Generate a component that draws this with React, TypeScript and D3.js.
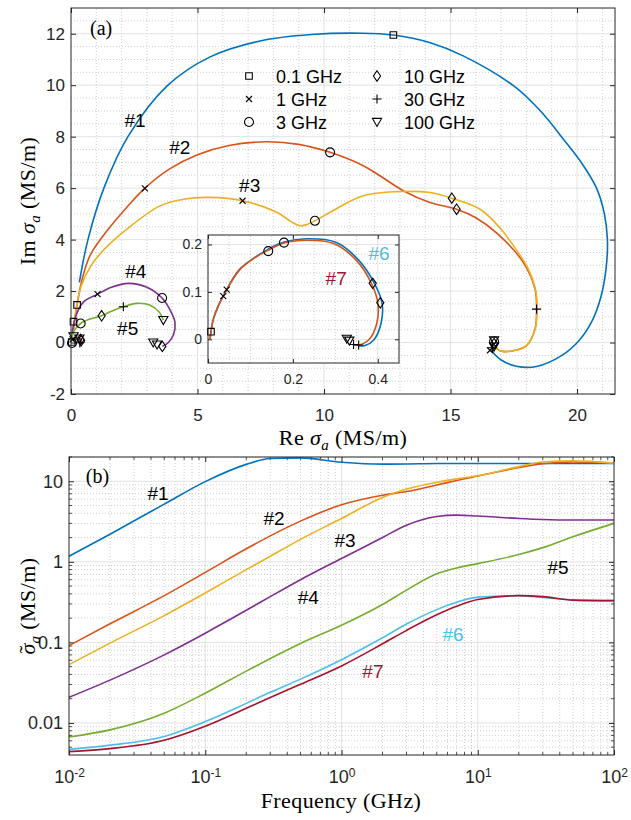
import { useEffect, useRef } from 'react';
import * as d3 from 'd3';

type Pt = [number, number];

const seriesColors = ['#0072BD', '#D95319', '#EDB120', '#7E2F8E', '#77AC30', '#4DBEEE', '#A2142F'];
const seriesNames = ['#1', '#2', '#3', '#4', '#5', '#6', '#7'];

// (a) trajectories of sigma_a in the complex plane, [Re, Im] in MS/m
const trajA1: Pt[] = [
  [0.33, 2.34], [0.67, 4.0], [1.3, 6.0], [2.25, 8.0], [3.83, 10.0], [5.5, 11.1], [7.47, 11.72],
  [9.5, 11.97], [11.5, 12.02], [12.74, 11.95], [14.2, 11.65], [15.5, 11.14], [17.5, 9.97],
  [18.6, 8.95], [19.46, 7.9], [20.2, 6.95], [20.77, 6.0], [21.08, 5.0], [21.2, 4.0],
  [21.15, 2.9], [20.95, 1.8], [20.6, 0.85], [20.1, 0.1], [19.4, -0.5], [18.4, -0.93],
  [17.6, -0.92], [17.0, -0.68], [16.6, -0.3],
];
const trajA2: Pt[] = [
  [0.1, 0.5], [0.24, 1.46], [0.45, 2.5], [0.76, 3.4], [1.47, 4.4], [2.2, 5.25], [2.92, 6.0],
  [3.9, 6.75], [5.0, 7.3], [6.2, 7.65], [7.7, 7.8], [9.0, 7.7], [10.24, 7.39], [11.55, 6.87],
  [12.21, 6.48], [13.13, 5.9], [14.19, 5.44], [15.24, 5.18], [16.0, 4.85], [16.83, 4.25],
  [17.88, 3.11], [18.34, 2.08], [18.4, 1.3], [18.34, 0.52], [18.0, -0.12], [17.48, -0.32],
  [16.96, -0.32], [16.72, -0.1],
];
const trajA3: Pt[] = [
  [0.05, 0.3], [0.15, 1.0], [0.4, 2.2], [0.8, 3.0], [1.32, 3.63], [2.2, 4.4], [3.52, 5.31],
  [4.5, 5.58], [5.49, 5.64], [6.78, 5.51], [8.13, 5.06], [8.7, 4.7], [9.05, 4.54], [9.3, 4.58],
  [9.64, 4.73], [10.24, 5.06], [11.55, 5.7], [13.13, 5.87], [14.19, 5.83], [15.05, 5.61],
  [16.17, 5.18], [17.0, 4.4], [17.6, 3.6], [18.05, 2.9], [18.38, 1.95], [18.42, 1.3],
  [18.34, 0.52], [18.0, -0.12], [17.48, -0.32], [16.96, -0.32], [16.72, -0.1],
];
const trajA4: Pt[] = [
  [0.02, 0.05], [0.15, 0.9], [0.48, 1.56], [1.05, 1.88], [1.6, 2.15], [2.27, 2.3], [3.0, 2.15],
  [3.6, 1.73], [3.95, 1.2], [4.11, 0.78], [4.05, 0.3], [3.85, 0.0], [3.61, -0.15],
];
const trajA5: Pt[] = [
  [0.02, 0.05], [0.12, 0.45], [0.38, 0.74], [0.74, 0.91], [1.21, 1.04], [1.6, 1.22],
  [2.07, 1.39], [2.58, 1.52], [3.11, 1.46], [3.5, 1.17], [3.65, 0.87],
];
// inset: samples #6 and #7
const trajA6: Pt[] = [
  [0.005, 0.0], [0.007, 0.016], [0.0125, 0.042], [0.024, 0.07], [0.036, 0.091], [0.075, 0.148],
  [0.142, 0.19], [0.179, 0.205], [0.233, 0.212], [0.3, 0.205], [0.355, 0.167], [0.392, 0.118],
  [0.41, 0.077], [0.408, 0.035], [0.39, -0.002], [0.37, -0.013], [0.355, -0.014],
];
const trajA7: Pt[] = [
  [0.005, 0.0], [0.007, 0.016], [0.0125, 0.042], [0.024, 0.07], [0.036, 0.091], [0.044, 0.105],
  [0.075, 0.147], [0.11, 0.172], [0.142, 0.188], [0.179, 0.203], [0.233, 0.209], [0.296, 0.202],
  [0.35, 0.166], [0.385, 0.118], [0.4, 0.077], [0.398, 0.035], [0.38, 0.0], [0.355, -0.012],
  [0.343, -0.011],
];

// frequency markers on the (a) trajectories
const freqLabels = ['0.1 GHz', '1 GHz', '3 GHz', '10 GHz', '30 GHz', '100 GHz'];
const freqShapes = ['square', 'cross', 'circle', 'diamond', 'plus', 'triangle'];
const markA01: Pt[] = [[12.74, 11.95], [0.24, 1.46], [0.1, 0.81], [0.03, 0.02]];
const markA1: Pt[] = [[2.92, 5.99], [6.78, 5.51], [1.05, 1.88], [16.56, -0.3], [0.06, 0.12]];
const markA3: Pt[] = [[10.24, 7.39], [9.64, 4.73], [3.6, 1.73], [0.38, 0.74], [0.04, -0.02], [16.72, 0.04]];
const markA10: Pt[] = [[15.05, 5.61], [15.24, 5.18], [1.21, 1.04], [3.61, -0.15], [0.38, 0.12], [0.4, 0.07], [16.72, -0.04]];
const markA30: Pt[] = [[18.4, 1.3], [2.07, 1.39], [0.35, -0.01], [16.66, -0.2]];
const markA100: Pt[] = [[3.65, 0.87], [3.25, 0.0], [3.4, -0.08], [0.1, 0.24], [0.33, 0.15], [16.72, 0.08], [16.72, -0.16]];
const markIn01: Pt[] = [[0.007, 0.016]];
const markIn1: Pt[] = [[0.036, 0.091], [0.044, 0.105]];
const markIn3: Pt[] = [[0.142, 0.186], [0.179, 0.204]];
const markIn10: Pt[] = [[0.388, 0.118], [0.406, 0.077]];
const markIn30: Pt[] = [[0.343, -0.011], [0.355, -0.012]];
const markIn100: Pt[] = [[0.327, 0.001], [0.333, -0.003]];

// (b) sigma_a tilde versus frequency
const freqGHz = [0.01, 0.02, 0.05, 0.1, 0.2, 0.3, 0.5, 1, 2, 3, 5, 7, 10, 20, 30, 50, 100];
const sigB1 = [1.17, 2.2, 5.2, 9.9, 16.2, 19.2, 19.5, 17.2, 16.3, 16.4, 16.6, 16.6, 16.6, 16.6, 16.6, 16.6, 16.6];
const sigB2 = [0.091, 0.17, 0.38, 0.74, 1.45, 2.1, 3.2, 5.1, 6.7, 7.45, 9.0, 10.2, 11.6, 14.8, 16.5, 17.4, 16.8];
const sigB3 = [0.053, 0.098, 0.215, 0.41, 0.8, 1.17, 1.9, 3.45, 6.3, 8.0, 9.7, 10.7, 11.7, 15.2, 17.3, 17.9, 16.8];
const sigB4 = [0.0208, 0.034, 0.07, 0.13, 0.25, 0.37, 0.6, 1.1, 2.0, 2.85, 3.65, 3.8, 3.7, 3.45, 3.35, 3.3, 3.3];
const sigB5 = [0.0067, 0.0082, 0.0132, 0.0234, 0.044, 0.063, 0.097, 0.163, 0.295, 0.445, 0.71, 0.84, 0.95, 1.23, 1.5, 2.05, 3.0];
const sigB6 = [0.0047, 0.0053, 0.0068, 0.0104, 0.0175, 0.024, 0.035, 0.061, 0.114, 0.169, 0.255, 0.315, 0.365, 0.38, 0.36, 0.335, 0.33];
const sigB7 = [0.0044, 0.0048, 0.0061, 0.0091, 0.0152, 0.0207, 0.0302, 0.051, 0.096, 0.141, 0.22, 0.281, 0.34, 0.38, 0.37, 0.335, 0.33];

// series label anchors in data units
const labelsA: Pt[] = [[2.53, 8.37], [4.3, 7.32], [7.06, 5.84], [2.56, 2.5], [2.24, 0.29]];
const labelsIn: Pt[] = [[0.403, 0.167], [0.302, 0.115]];
const labelsB: Pt[] = [[0.045, 5.85], [0.32, 2.86], [1.06, 1.53], [0.57, 0.3], [38.8, 0.71], [6.58, 0.104], [1.7, 0.036]];

const sansFont = "'Liberation Sans', Arial, Helvetica, sans-serif";
const texFont = "'Liberation Serif', 'Times New Roman', serif";
const axisColor = '#262626';
const majorGridColor = '#dcdcdc';
const minorGridColor = '#c4c4c4';

const markerPaths: Record<string, string> = {
  square: 'M-3.3,-3.3H3.3V3.3H-3.3Z',
  cross: 'M-3,-3L3,3M-3,3L3,-3',
  circle: 'M4.5,0A4.5,4.5 0 1,1 -4.5,0A4.5,4.5 0 1,1 4.5,0Z',
  diamond: 'M0,-5.2L3.6,0L0,5.2L-3.6,0Z',
  plus: 'M-4.6,0H4.6M0,-4.6V4.6',
  triangle: 'M-4.6,-3.6H4.6L0,4.4Z',
};

function drawGrid(g: any, x: any, y: any, xs: number[], ys: number[], color: string, dash: string | null) {
  const [x0, x1] = x.range();
  const [y0, y1] = y.range();
  const gg = g.append('g').attr('stroke', color).attr('stroke-width', 0.8).attr('stroke-dasharray', dash);
  gg.selectAll('line.v').data(xs).join('line').attr('class', 'v')
    .attr('x1', (d: number) => x(d)).attr('x2', (d: number) => x(d)).attr('y1', y0).attr('y2', y1);
  gg.selectAll('line.h').data(ys).join('line').attr('class', 'h')
    .attr('y1', (d: number) => y(d)).attr('y2', (d: number) => y(d)).attr('x1', x0).attr('x2', x1);
}

// inward ticks on all four sides, labels only on bottom/left; returns the bottom axis group
function drawAxes(g: any, x: any, y: any, xt: number[], yt: number[], len: number, fontSize: number, xPad: number, fmtX: any, fmtY: any) {
  const [x0, x1] = x.range();
  const [y0, y1] = y.range();
  const strip = (s: any) => s.call((a: any) => a.select('.domain').remove())
    .attr('color', axisColor).attr('font-family', sansFont).attr('font-size', fontSize);
  const bottom = g.append('g').attr('transform', `translate(0,${y0})`)
    .call(d3.axisBottom(x).tickValues(xt).tickSizeInner(-len).tickSizeOuter(0).tickPadding(xPad).tickFormat(fmtX))
    .call(strip);
  g.append('g').attr('transform', `translate(0,${y1})`)
    .call(d3.axisTop(x).tickValues(xt).tickSizeInner(-len).tickSizeOuter(0).tickFormat(() => ''))
    .call(strip);
  g.append('g').attr('transform', `translate(${x0},0)`)
    .call(d3.axisLeft(y).tickValues(yt).tickSizeInner(-len).tickSizeOuter(0).tickPadding(6).tickFormat(fmtY))
    .call(strip);
  g.append('g').attr('transform', `translate(${x1},0)`)
    .call(d3.axisRight(y).tickValues(yt).tickSizeInner(-len).tickSizeOuter(0).tickFormat(() => ''))
    .call(strip);
  return bottom;
}

function drawBox(g: any, x: any, y: any) {
  const [x0, x1] = x.range();
  const [y0, y1] = y.range();
  g.append('rect').attr('x', x0).attr('y', y1).attr('width', x1 - x0).attr('height', y0 - y1)
    .attr('fill', 'none').attr('stroke', axisColor).attr('stroke-width', 1);
}

function drawMarkers(g: any, x: any, y: any, groups: Pt[][]) {
  groups.forEach((pts, i) => {
    g.append('g').selectAll('path').data(pts).join('path')
      .attr('d', markerPaths[freqShapes[i]])
      .attr('transform', (d: Pt) => `translate(${x(d[0])},${y(d[1])})`)
      .attr('fill', 'none').attr('stroke', '#000').attr('stroke-width', 1.1);
  });
}

function sigmaText(t: any, prefix: string, tilde: boolean) {
  if (prefix) t.append('tspan').text(prefix);
  t.append('tspan').attr('font-style', 'italic').text('σ');
  if (tilde) t.append('tspan').attr('dx', -10).attr('dy', -1).text('\u02DC');
  t.append('tspan').attr('font-style', 'italic').attr('font-size', 15)
    .attr('dx', tilde ? 2 : 0).attr('dy', tilde ? 6 : 5).text('a');
  t.append('tspan').attr('dy', -5).text(' (MS/m)');
}

export default function App() {
  const svgRef = useRef<SVGSVGElement>(null);

  useEffect(() => {
    if (!svgRef.current) return;
    const svg = d3.select(svgRef.current);
    svg.selectAll('*').remove();

    // ---------- panel (a) ----------
    const xA = d3.scaleLinear().domain([0, 21.5]).range([71, 615]);
    const yA = d3.scaleLinear().domain([-2, 13]).range([394, 8]);
    const gA = svg.append('g');

    drawGrid(gA, xA, yA, d3.range(1, 22).filter((v) => v % 5 !== 0),
      d3.range(-1.5, 13, 0.5).filter((v) => v % 2 !== 0), minorGridColor, '1,2');
    drawGrid(gA, xA, yA, [5, 10, 15, 20], d3.range(0, 13, 2), majorGridColor, null);
    drawAxes(gA, xA, yA, [0, 5, 10, 15, 20], d3.range(-2, 13, 2), 5, 17, 15, (d: number) => String(d), (d: number) => String(d));

    const lineA = d3.line<Pt>().x((d) => xA(d[0])).y((d) => yA(d[1])).curve(d3.curveCatmullRom.alpha(0.5));
    [trajA1, trajA2, trajA3, trajA4, trajA5].forEach((pts, i) => {
      gA.append('path').datum(pts).attr('d', lineA).attr('fill', 'none')
        .attr('stroke', seriesColors[i]).attr('stroke-width', 1.6);
    });
    [trajA6, trajA7].forEach((pts, i) => {
      gA.append('path').datum(pts).attr('d', lineA).attr('fill', 'none')
        .attr('stroke', seriesColors[i]).attr('stroke-width', 1.2);
    });
    drawMarkers(gA, xA, yA, [markA01, markA1, markA3, markA10, markA30, markA100]);

    labelsA.forEach((p, i) => {
      gA.append('text').attr('x', xA(p[0])).attr('y', yA(p[1])).attr('text-anchor', 'middle')
        .attr('font-family', sansFont).attr('font-size', 19).attr('fill', '#000').text(seriesNames[i]);
    });
    gA.append('text').attr('x', xA(0.75)).attr('y', yA(11.94)).attr('font-family', texFont)
      .attr('font-size', 20).attr('fill', '#000').text('(a)');

    // legend, two columns of three
    const legend = gA.append('g');
    freqLabels.forEach((lab, i) => {
      const col = Math.floor(i / 3);
      const row = i % 3;
      const mx = col === 0 ? 249 : 377;
      const my = 76 + row * 23;
      legend.append('path').attr('d', markerPaths[freqShapes[i]]).attr('transform', `translate(${mx},${my})`)
        .attr('fill', 'none').attr('stroke', '#000').attr('stroke-width', 1.1);
      legend.append('text').attr('x', mx + 27).attr('y', my + 7).attr('font-family', sansFont)
        .attr('font-size', 18).attr('fill', '#000').text(lab);
    });

    drawBox(gA, xA, yA);

    gA.append('text').attr('x', 343).attr('y', 445).attr('text-anchor', 'middle')
      .attr('font-family', texFont).attr('font-size', 22).attr('letter-spacing', 0.4).attr('fill', '#000')
      .call(sigmaText, 'Re ', false);
    gA.append('text').attr('transform', 'translate(35,201) rotate(-90)').attr('text-anchor', 'middle')
      .attr('font-family', texFont).attr('font-size', 22).attr('letter-spacing', 0.4).attr('fill', '#000')
      .call(sigmaText, 'Im ', false);

    // ---------- inset ----------
    const xI = d3.scaleLinear().domain([0, 0.45]).range([208, 399]);
    const yI = d3.scaleLinear().domain([-0.05, 0.22]).range([363, 235]);
    const gI = svg.append('g');
    gI.append('rect').attr('x', 208).attr('y', 235).attr('width', 191).attr('height', 128).attr('fill', '#fff');
    drawGrid(gI, xI, yI, d3.range(0.05, 0.45, 0.05).filter((v) => Math.abs(v / 0.2 - Math.round(v / 0.2)) > 1e-6),
      d3.range(-0.04, 0.22, 0.02).filter((v) => Math.abs(v / 0.1 - Math.round(v / 0.1)) > 1e-6), minorGridColor, '1,2');
    drawGrid(gI, xI, yI, [0.2, 0.4], [0, 0.1, 0.2], majorGridColor, null);
    drawAxes(gI, xI, yI, [0, 0.2, 0.4], [0, 0.1, 0.2], 4, 14, 11, (d: number) => String(d), (d: number) => String(d));

    const lineI = d3.line<Pt>().x((d) => xI(d[0])).y((d) => yI(d[1])).curve(d3.curveCatmullRom.alpha(0.5));
    [trajA6, trajA7].forEach((pts, i) => {
      gI.append('path').datum(pts).attr('d', lineI).attr('fill', 'none')
        .attr('stroke', seriesColors[i]).attr('stroke-width', 1.6);
    });
    drawMarkers(gI, xI, yI, [markIn01, markIn1, markIn3, markIn10, markIn30, markIn100]);
    labelsIn.forEach((p, i) => {
      gI.append('text').attr('x', xI(p[0])).attr('y', yI(p[1])).attr('text-anchor', 'middle')
        .attr('font-family', sansFont).attr('font-size', 19).attr('fill', seriesColors[5 + i]).text(seriesNames[5 + i]);
    });
    drawBox(gI, xI, yI);

    // ---------- panel (b) ----------
    const xB = d3.scaleLog().domain([0.01, 100]).range([69, 614]);
    const yB = d3.scaleLog().domain([0.004, 20]).range([755, 457]);
    const gB = svg.append('g');

    const decadesX = [0.01, 0.1, 1, 10];
    const minorX = decadesX.flatMap((d) => d3.range(2, 10).map((k) => d * k));
    const minorY = [0.001, 0.01, 0.1, 1, 10].flatMap((d) => d3.range(2, 10).map((k) => d * k))
      .filter((v) => v > 0.004 && v <= 20);
    drawGrid(gB, xB, yB, minorX, minorY, minorGridColor, '1,2');
    drawGrid(gB, xB, yB, [0.1, 1, 10], [0.01, 0.1, 1, 10], majorGridColor, null);

    // minor ticks
    const minorTicks = gB.append('g').attr('stroke', axisColor).attr('stroke-width', 0.8);
    minorX.forEach((v) => {
      minorTicks.append('line').attr('x1', xB(v)).attr('x2', xB(v)).attr('y1', 755).attr('y2', 752);
      minorTicks.append('line').attr('x1', xB(v)).attr('x2', xB(v)).attr('y1', 457).attr('y2', 460);
    });
    minorY.forEach((v) => {
      minorTicks.append('line').attr('y1', yB(v)).attr('y2', yB(v)).attr('x1', 69).attr('x2', 72);
      minorTicks.append('line').attr('y1', yB(v)).attr('y2', yB(v)).attr('x1', 614).attr('x2', 611);
    });

    const bottomB = drawAxes(gB, xB, yB, [0.01, 0.1, 1, 10, 100], [0.01, 0.1, 1, 10], 5, 18, 15, () => '', (d: number) => String(d));
    // powers of ten with superscript exponents
    bottomB.selectAll('.tick text').each(function (this: any, d: any) {
      const t = d3.select(this);
      t.append('tspan').text('10');
      t.append('tspan').attr('dy', '-0.5em').attr('font-size', 12).text(String(Math.round(Math.log10(d))));
    });

    const lineB = d3.line<number>()
      .x((_, i) => xB(freqGHz[i]))
      .y((d) => yB(d))
      .curve(d3.curveMonotoneX);
    [sigB1, sigB2, sigB3, sigB4, sigB5, sigB6, sigB7].forEach((vals, i) => {
      gB.append('path').datum(vals).attr('d', lineB).attr('fill', 'none')
        .attr('stroke', seriesColors[i]).attr('stroke-width', 1.6);
    });

    labelsB.forEach((p, i) => {
      gB.append('text').attr('x', xB(p[0])).attr('y', yB(p[1])).attr('text-anchor', 'middle')
        .attr('font-family', sansFont).attr('font-size', 19)
        .attr('fill', i >= 5 ? seriesColors[i] : '#000').text(seriesNames[i]);
    });
    gB.append('text').attr('x', xB(0.0133)).attr('y', yB(9.5)).attr('font-family', texFont)
      .attr('font-size', 20).attr('fill', '#000').text('(b)');

    drawBox(gB, xB, yB);

    gB.append('text').attr('x', 341).attr('y', 808).attr('text-anchor', 'middle')
      .attr('font-family', texFont).attr('font-size', 22).attr('letter-spacing', 0.4).attr('fill', '#000')
      .text('Frequency (GHz)');
    gB.append('text').attr('transform', 'translate(35,606) rotate(-90)').attr('text-anchor', 'middle')
      .attr('font-family', texFont).attr('font-size', 22).attr('letter-spacing', 0.4).attr('fill', '#000')
      .call(sigmaText, '', true);
  }, []);

  return (
    <svg ref={svgRef} width={631} height={820}
      style={{ position: 'absolute', left: 0, top: 0, background: '#fff' }} />
  );
}
